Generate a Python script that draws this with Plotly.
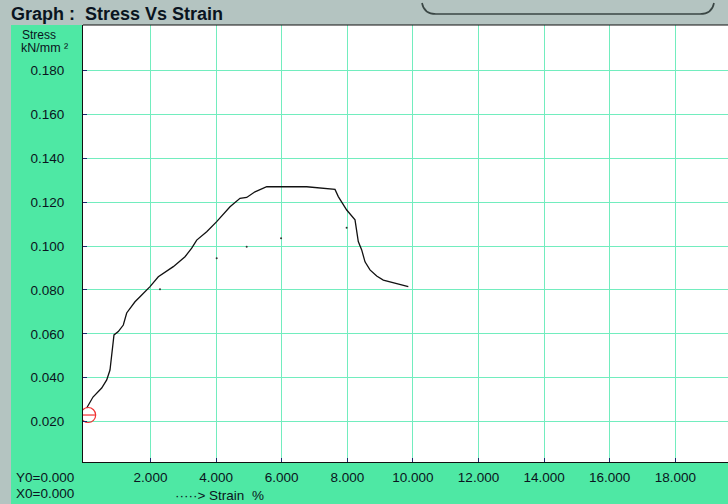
import plotly.graph_objects as go

# ---- data ----
strain = [0.055, 0.247, 0.512, 0.665, 0.765, 0.817, 0.866, 0.887, 1.018, 1.171, 1.274, 1.527,
          1.680, 1.985, 2.238, 2.695, 3.052, 3.256, 3.409, 3.713, 4.018, 4.424, 4.729, 4.933,
          5.186, 5.543, 6.762, 7.625, 7.726, 7.982, 8.235, 8.287, 8.335, 8.439, 8.540, 8.692,
          8.896, 9.098, 9.506, 9.860]
stress = [0.0262, 0.0312, 0.0353, 0.0390, 0.0435, 0.0496, 0.0557, 0.0595, 0.0610, 0.0640, 0.0695, 0.0746,
          0.0769, 0.0815, 0.0860, 0.0906, 0.0951, 0.0990, 0.1027, 0.1065, 0.1111, 0.1179, 0.1217, 0.1221,
          0.1247, 0.1270, 0.1270, 0.1258, 0.1225, 0.1164, 0.1119, 0.1073, 0.1020, 0.0982, 0.0928, 0.0891,
          0.0863, 0.0845, 0.0830, 0.0815]
noise_x = [4.018, 2.29, 4.933, 7.98, 5.98]
noise_y = [0.0944, 0.0803, 0.0997, 0.1083, 0.1035]
origin_x = [0.10]
origin_y = [0.023]
x_ticks = [2, 4, 6, 8, 10, 12, 14, 16, 18]
x_labels = ["2.000", "4.000", "6.000", "8.000", "10.000", "12.000", "14.000", "16.000", "18.000"]
y_ticks = [0.02, 0.04, 0.06, 0.08, 0.10, 0.12, 0.14, 0.16, 0.18]
y_labels = ["0.020", "0.040", "0.060", "0.080", "0.100", "0.120", "0.140", "0.160", "0.180"]

GREEN = "#4EE8A4"
GRID = "#72EDBE"
GRAY = "#B4C4C1"
TXT = "#0A1420"
FONT = "Liberation Sans, Arial, sans-serif"

W, H = 728, 504
L, R, T, B = 83, 0, 25, 42
PW, PH = W - L - R, H - T - B


def px(x):
    return (x - L) / PW


def py(y):
    return (H - B - y) / PH


fig = go.Figure()
fig.add_trace(go.Scatter(x=strain, y=stress, mode="lines",
                         line=dict(color="#111111", width=1.3), hoverinfo="skip"))
fig.add_trace(go.Scatter(x=noise_x, y=noise_y, mode="markers",
                         marker=dict(color="#333333", size=2), hoverinfo="skip"))
fig.add_trace(go.Scatter(x=origin_x, y=origin_y, mode="markers",
                         marker=dict(symbol="circle-open", color="#F03030", size=15,
                                     line=dict(width=1.2)), hoverinfo="skip"))
fig.add_trace(go.Scatter(x=origin_x, y=origin_y, mode="markers",
                         marker=dict(symbol="line-ew-open", color="#F03030", size=11,
                                     line=dict(width=1.2, color="#F03030")), hoverinfo="skip"))

shapes = [
    dict(type="rect", xref="paper", yref="paper", x0=px(0), x1=px(W), y0=py(T), y1=py(0),
         fillcolor=GRAY, line=dict(width=0), layer="below"),
    dict(type="rect", xref="paper", yref="paper", x0=px(0), x1=px(11), y0=py(H), y1=py(T),
         fillcolor=GRAY, line=dict(width=0), layer="below"),
    dict(type="line", xref="paper", yref="paper", x0=px(L), x1=px(W), y0=py(T), y1=py(T),
         line=dict(color="#111111", width=1.2)),
    dict(type="path", xref="paper", yref="paper",
         path=f"M {px(422)} {py(3)} Q {px(424)} {py(14)} {px(436)} {py(14)} L {px(700)} {py(14)} "
              f"Q {px(712)} {py(14)} {px(714)} {py(3)}",
         line=dict(color="#3A4644", width=1.6)),
]

annotations = [
    dict(text="<b>Graph :  Stress Vs Strain</b>", x=px(9), y=py(14), xref="paper", yref="paper",
         xanchor="left", yanchor="middle", showarrow=False,
         font=dict(family=FONT, size=18, color=TXT)),
    dict(text="Stress", x=px(20), y=py(35), xref="paper", yref="paper",
         xanchor="left", yanchor="middle", showarrow=False,
         font=dict(family=FONT, size=12, color=TXT)),
    dict(text="kN/mm ²", x=px(19), y=py(48), xref="paper", yref="paper",
         xanchor="left", yanchor="middle", showarrow=False,
         font=dict(family=FONT, size=12.5, color=TXT)),
    dict(text="Y0=0.000", x=px(14), y=py(477), xref="paper", yref="paper",
         xanchor="left", yanchor="middle", showarrow=False,
         font=dict(family=FONT, size=13.5, color=TXT)),
    dict(text="X0=0.000", x=px(14), y=py(493), xref="paper", yref="paper",
         xanchor="left", yanchor="middle", showarrow=False,
         font=dict(family=FONT, size=13.5, color=TXT)),
    dict(text="·····> Strain  %", x=px(173), y=py(495), xref="paper", yref="paper",
         xanchor="left", yanchor="middle", showarrow=False,
         font=dict(family=FONT, size=13.5, color=TXT)),
]

fig.update_layout(
    width=W, height=H,
    margin=dict(l=L, r=R, t=T, b=B, pad=0),
    paper_bgcolor=GREEN, plot_bgcolor="white",
    showlegend=False,
    shapes=shapes, annotations=annotations,
    font=dict(family=FONT, size=13.5, color=TXT),
)
fig.update_xaxes(range=[(L - 84.9) / 32.8, (W - 84.9) / 32.8], tickvals=x_ticks, ticktext=x_labels,
                 showgrid=True, gridcolor=GRID, gridwidth=1.2, zeroline=False,
                 showline=True, linecolor="#111111", linewidth=1.2,
                 ticks="inside", ticklen=4, tickcolor="#1A2A6E", ticklabelstandoff=3,
                 tickfont=dict(family=FONT, size=13.5, color=TXT))
fig.update_yaxes(range=[(465.5 - (H - B)) / 2195, (465.5 - T) / 2195], tickvals=y_ticks, ticktext=y_labels,
                 showgrid=True, gridcolor=GRID, gridwidth=1.2, zeroline=False,
                 showline=True, linecolor="#111111", linewidth=1.2,
                 ticks="inside", ticklen=4, tickcolor="#1A2A6E", ticklabelstandoff=15,
                 tickfont=dict(family=FONT, size=13.5, color=TXT))

fig.write_html("out.html", config={"displayModeBar": False},
               post_script="document.body.style.margin='0';document.body.style.overflow='hidden';")
